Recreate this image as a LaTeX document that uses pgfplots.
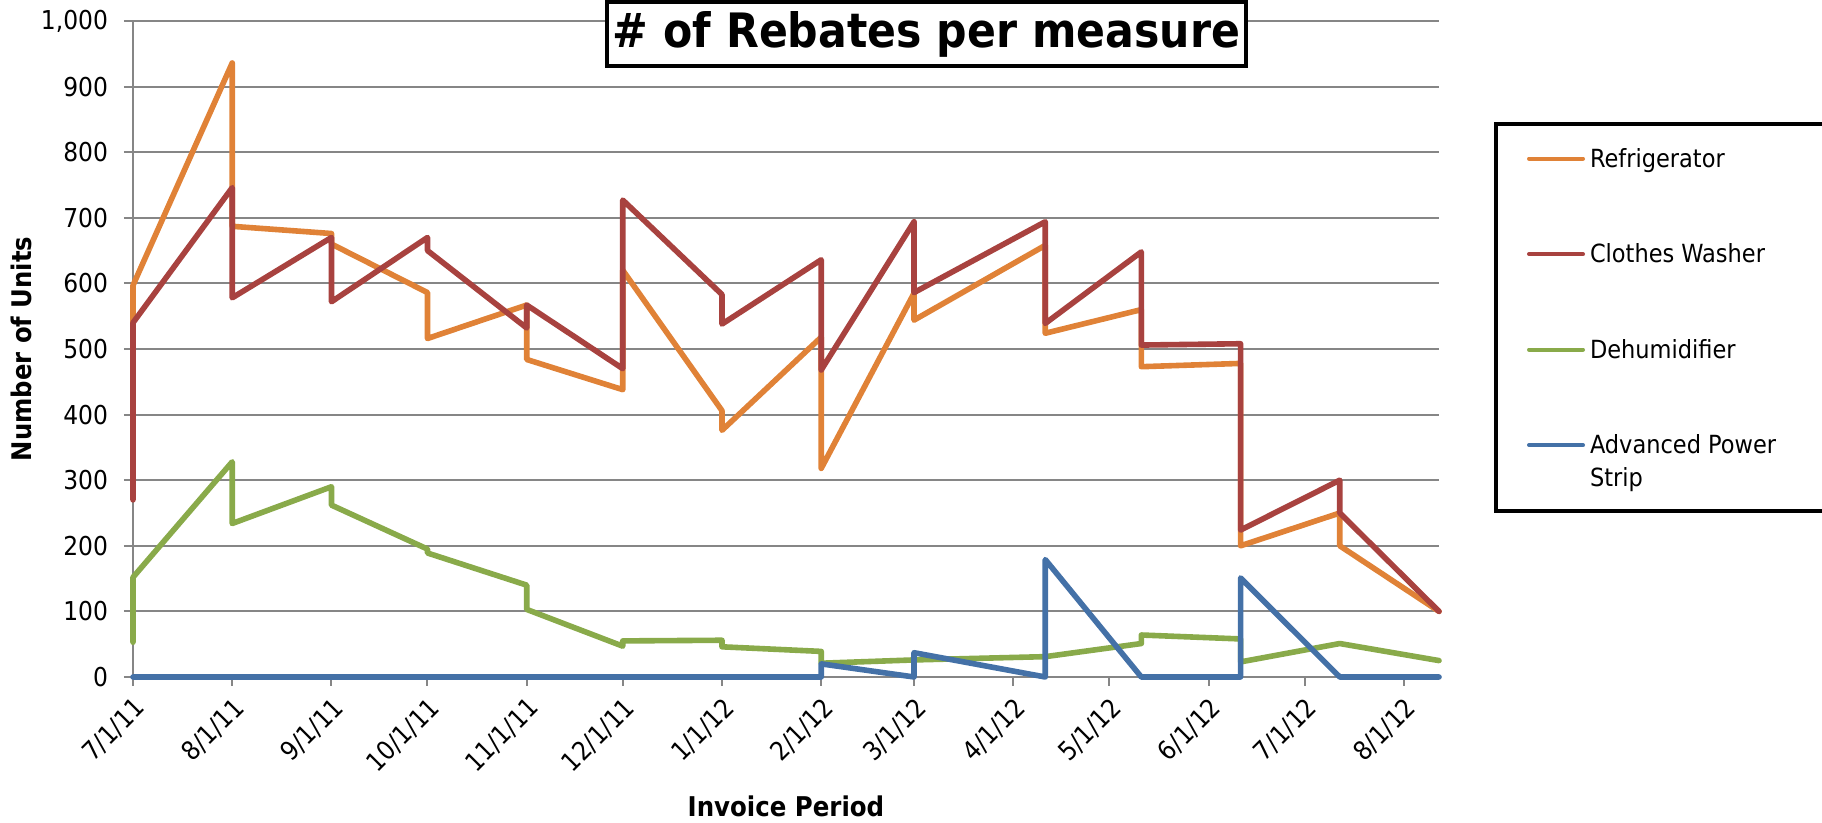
\documentclass[border=0pt]{standalone}
\usepackage{fontspec}
\setmainfont{DejaVu Sans Condensed}
\usepackage{pgfplots}
\pgfplotsset{compat=1.18}
\definecolor{cOrange}{RGB}{224,130,55}
\definecolor{cRed}{RGB}{168,66,63}
\definecolor{cGreen}{RGB}{137,170,74}
\definecolor{cBlue}{RGB}{68,113,167}
\definecolor{cGrid}{RGB}{134,134,134}
\begin{document}
\begin{tikzpicture}
\path[use as bounding box] (0,0) rectangle (911pt,411.5pt);
\begin{axis}[
  at={(66.5pt,73pt)}, anchor=south west,
  scale only axis, width=653pt, height=328pt,
  xmin=0, xmax=408, ymin=0, ymax=1000,
  clip=false,
  axis x line=bottom, axis y line=left,
  axis line style={-, draw=cGrid, line width=1pt},
  ymajorgrids, grid style={draw=cGrid, line width=1pt},
  tick style={draw=cGrid, line width=1pt},
  tick align=outside, major tick length=4.5pt,
  ytick={0,100,...,1000},
  xtick={0,31,62,92,123,153,184,215,244,275,305,336,366,397},
  xticklabels={7/1/11,8/1/11,9/1/11,10/1/11,11/1/11,12/1/11,1/1/12,2/1/12,3/1/12,4/1/12,5/1/12,6/1/12,7/1/12,8/1/12},
  ticklabel style={font=\fontsize{13}{15}\selectfont, text=black},
  /pgf/number format/assume math mode=true,
  /pgf/number format/1000 sep={,},
  xticklabel style={rotate=45, anchor=north east},
  yticklabel style={xshift=-4.5pt},
  title={\# of Rebates per measure},
  title style={at={(axis description cs:0.60758,0.96189)}, anchor=center, draw=black, line width=2pt, fill=white, minimum width=319.5pt, minimum height=32pt, inner sep=0pt, font=\bfseries\fontsize{23.7}{27}\selectfont},
  xlabel={Invoice Period},
  xlabel style={at={(axis description cs:0.5,-0.19665)}, anchor=center, font=\bfseries\fontsize{13.6}{16}\selectfont},
  ylabel={Number of Units},
  ylabel style={at={(axis description cs:-0.08576,0.5)}, anchor=center, font=\bfseries\fontsize{13.5}{16}\selectfont},
  legend style={
    at={(axis description cs:1.04211,0.8467)}, anchor=north west,
    draw=black, line width=2pt, fill=white,
    inner xsep=15.5pt, inner ysep=10.9pt,
    row sep=33.25pt, column sep=0.5pt,
    font=\fontsize{12.5}{16.5}\selectfont,
    cells={anchor=base west, inner sep=0pt, text height=9pt, text depth=3pt},
  },
  legend image code/.code={\draw[#1, line width=2pt, line cap=round] (0pt,4.4pt) -- (27pt,4.4pt);},
  every axis plot/.append style={line width=2.8pt, line join=round, line cap=round, no markers},
]
\addplot[color=cOrange] coordinates {
(0,540) (0,597) (31,936) (31,687) (62,676) (62,660) (92,586) (92,516)
(123,567) (123,484) (153,438) (153,620) (184,406) (184,376) (215,518) (215,318)
(244,585) (244,544) (285,658) (285,524) (315,560) (315,473) (346,478) (346,200)
(377,250) (377,200) (408,100)};
\addlegendentry{Refrigerator}
\addplot[color=cRed] coordinates {
(0,270) (0,540) (31,746) (31,578) (62,670) (62,572) (92,670) (92,650)
(123,532) (123,567) (153,470) (153,727) (184,583) (184,538) (215,636) (215,468)
(244,694) (244,586) (285,694) (285,539) (315,648) (315,506) (346,508) (346,224)
(377,300) (377,250) (408,100)};
\addlegendentry{Clothes Washer}
\addplot[color=cGreen] coordinates {
(0,53) (0,152) (31,328) (31,234) (62,290) (62,262) (92,195) (92,189)
(123,140) (123,103) (153,47) (153,55) (184,56) (184,46) (215,39) (215,21)
(244,26) (285,31) (315,51) (315,64) (346,58) (346,23) (377,51) (408,25)};
\addlegendentry{Dehumidifier}
\addplot[color=cBlue] coordinates {
(0,0) (215,0) (215,20) (244,0) (244,37) (285,0) (285,179) (315,0)
(346,0) (346,151) (377,0) (408,0)};
\addlegendentry[text depth=15.7pt]{\begin{tabular}[t]{@{}p{99.5pt}@{}}Advanced Power\\Strip\end{tabular}}
\end{axis}
\end{tikzpicture}
\end{document}
